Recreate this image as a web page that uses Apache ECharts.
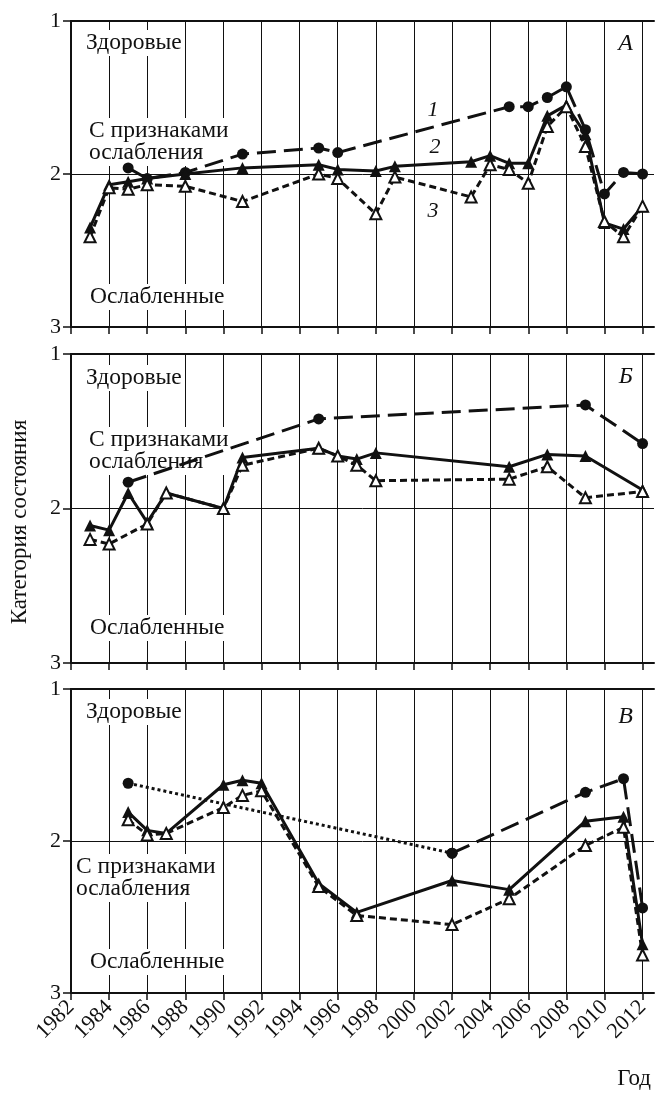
<!DOCTYPE html>
<html><head><meta charset="utf-8">
<script src="https://cdn.jsdelivr.net/npm/echarts@6/dist/echarts.min.js"></script>
<style>html,body{margin:0;padding:0;background:#fff}#c{width:663px;height:1094px}</style>
</head><body><div id="c"></div>
<script>
// ---- data ----
const xTickYears = [1982,1984,1986,1988,1990,1992,1994,1996,1998,2000,2002,2004,2006,2008,2010,2012];
const yTicks = [1,2,3];
const categoryNames = ['Здоровые','С признаками\nослабления','Ослабленные'];
const panelLetters = ['А','Б','В'];
const seriesNumbers = ['1','2','3'];
const axisTitleY = 'Категория состояния';
const axisTitleX = 'Год';

// Panel A
const yearsA1 = [1985,1986,1988,1991,1995,1996,2005,2006,2007,2008,2009,2010,2011,2012];
const valuesA1 = [1.96,2.03,1.99,1.87,1.83,1.86,1.56,1.56,1.50,1.43,1.71,2.13,1.99,2.00];
const yearsA2 = [1983,1984,1985,1986,1988,1991,1995,1996,1998,1999,2003,2004,2005,2006,2007,2008,2009,2010,2011,2012];
const valuesA2 = [2.35,2.07,2.05,2.03,2.00,1.96,1.94,1.97,1.98,1.95,1.92,1.88,1.93,1.93,1.62,1.55,1.74,2.32,2.36,2.21];
const yearsA3 = [1983,1984,1985,1986,1988,1991,1995,1996,1998,1999,2003,2004,2005,2006,2007,2008,2009,2010,2011,2012];
const valuesA3 = [2.41,2.09,2.10,2.07,2.08,2.18,2.00,2.03,2.26,2.02,2.15,1.94,1.97,2.06,1.69,1.56,1.82,2.31,2.41,2.21];

// Panel B
const yearsB1 = [1985,1995,2009,2012];
const valuesB1 = [1.83,1.42,1.33,1.58];
const yearsB2 = [1983,1984,1985,1986,1987,1990,1991,1995,1996,1997,1998,2005,2007,2009,2012];
const valuesB2 = [2.11,2.14,1.90,2.09,1.90,2.00,1.67,1.61,1.66,1.68,1.64,1.73,1.65,1.66,1.88];
const yearsB3 = [1983,1984,1986,1987,1990,1991,1995,1996,1997,1998,2005,2007,2009,2012];
const valuesB3 = [2.20,2.23,2.10,1.90,2.00,1.72,1.61,1.66,1.72,1.82,1.81,1.73,1.93,1.89];

// Panel C (series 1 is dotted up to 2002, dashed afterwards)
const yearsC1 = [1985,2002,2009,2011,2012];
const valuesC1 = [1.62,2.08,1.68,1.59,2.44];
const dottedUntilC1 = 2002;
const yearsC2 = [1985,1986,1987,1990,1991,1992,1995,1997,2002,2005,2009,2011,2012];
const valuesC2 = [1.81,1.93,1.95,1.63,1.60,1.62,2.28,2.47,2.26,2.32,1.87,1.84,2.68];
const yearsC3 = [1985,1986,1987,1990,1991,1992,1995,1997,2002,2005,2009,2011,2012];
const valuesC3 = [1.86,1.96,1.95,1.78,1.70,1.67,2.30,2.49,2.55,2.38,2.03,1.91,2.75];

// ---- layout ----
const FONT = '"Liberation Serif", "Times New Roman", serif';
const INK = '#111';
const panels = [
  {top: 21, height: 306},
  {top: 354, height: 309},
  {top: 689, height: 304}
];
const LEFT = 71, RIGHT = 9;

const pairs = (ys, vs) => ys.map((y, i) => [y, vs[i]]);

const grid = panels.map(p => ({left: LEFT, right: RIGHT, top: p.top, height: p.height}));
const xAxis = [], yAxis = [];
panels.forEach((p, i) => {
  xAxis.push({
    type: 'value', gridIndex: i, min: 1982, max: 2012.6, interval: 2, position: 'bottom',
    axisLine: {show: true, onZero: false, lineStyle: {color: INK, width: 2}},
    axisTick: {show: true, length: 7, inside: false, customValues: xTickYears, lineStyle: {color: INK, width: 1.5}},
    splitLine: {show: true, lineStyle: {color: INK, width: 1}},
    axisLabel: {show: i === 2, customValues: xTickYears, rotate: 45, margin: 11,
      fontFamily: FONT, fontSize: 22, color: INK, formatter: v => String(v)}
  });
  xAxis.push({
    type: 'value', gridIndex: i, min: 1982, max: 2012.6, position: 'top',
    axisLine: {show: true, onZero: false, lineStyle: {color: INK, width: 2}},
    axisTick: {show: false}, splitLine: {show: false}, axisLabel: {show: false}
  });
  yAxis.push({
    type: 'value', gridIndex: i, min: 1, max: 3, interval: 1, inverse: true,
    axisLine: {show: true, lineStyle: {color: INK, width: 2}},
    axisTick: {show: true, length: 8, customValues: yTicks, lineStyle: {color: INK, width: 1.5}},
    axisLabel: {show: true, margin: 10, customValues: yTicks, fontFamily: FONT, fontSize: 22, color: INK},
    splitLine: {show: true, lineStyle: {color: INK, width: 1}}
  });
});

function mk(kind, panel, data, extra) {
  const base = {
    type: 'line', xAxisIndex: panel * 2, yAxisIndex: panel, data: data,
    silent: true, animation: false, z: 3
  };
  if (kind === 1) Object.assign(base, {
    symbol: 'circle', symbolSize: 11, itemStyle: {color: INK},
    lineStyle: {color: INK, width: 3, type: [19, 8], cap: 'butt'}, z: 3
  });
  if (kind === 2) Object.assign(base, {
    symbol: 'triangle', symbolSize: 12, itemStyle: {color: INK},
    lineStyle: {color: INK, width: 3, type: 'solid'}, z: 4
  });
  if (kind === 3) Object.assign(base, {
    symbol: 'triangle', symbolSize: 11, itemStyle: {color: '#fff', borderColor: INK, borderWidth: 2},
    lineStyle: {color: INK, width: 3, type: [7, 4], cap: 'butt'}, z: 5
  });
  return Object.assign(base, extra || {});
}

const c1 = pairs(yearsC1, valuesC1);
const c1Dotted = c1.filter(d => d[0] <= dottedUntilC1);
const c1Dashed = c1.filter(d => d[0] >= dottedUntilC1);

const series = [
  mk(1, 0, pairs(yearsA1, valuesA1)),
  mk(2, 0, pairs(yearsA2, valuesA2)),
  mk(3, 0, pairs(yearsA3, valuesA3)),
  mk(1, 1, pairs(yearsB1, valuesB1)),
  mk(2, 1, pairs(yearsB2, valuesB2)),
  mk(3, 1, pairs(yearsB3, valuesB3)),
  mk(1, 2, c1Dotted, {lineStyle: {color: INK, width: 3, type: [3, 3], cap: 'butt'}}),
  mk(1, 2, c1Dashed),
  mk(2, 2, pairs(yearsC2, valuesC2)),
  mk(3, 2, pairs(yearsC3, valuesC3))
];

// ---- texts ----
function txt(x, y, text, opts) {
  return Object.assign({
    type: 'text', x: x, y: y, z: 1, silent: true,
    style: Object.assign({text: text, font: '21px ' + FONT, fill: INK,
      textAlign: 'left', textVerticalAlign: 'middle'}, (opts && opts.style) || {})
  }, opts && opts.el || {});
}
const bg = {backgroundColor: '#fff', padding: [2, 2, 2, 2], lineHeight: 22};
const catPos = [
  [[84, 43], [87, 142], [88, 297]],
  [[84, 378], [87, 451], [88, 628]],
  [[84, 712], [74, 878], [88, 962]]
];
const graphic = [];
catPos.forEach(pp => pp.forEach((q, k) => {
  graphic.push(txt(q[0], q[1], categoryNames[k], {style: Object.assign({font: '23.5px ' + FONT}, bg)}));
}));
const letterPos = [[633, 44], [633, 377], [633, 717]];
letterPos.forEach((q, i) => graphic.push(txt(q[0], q[1], panelLetters[i],
  {style: {font: 'italic 24px ' + FONT, textAlign: 'right'}})));
const numPos = [[433, 110], [435, 147], [433, 211]];
numPos.forEach((q, i) => graphic.push(txt(q[0], q[1], seriesNumbers[i],
  {style: {font: 'italic 22px ' + FONT, textAlign: 'center'}})));
graphic.push(txt(20, 522, axisTitleY, {style: {font: '23px ' + FONT, textAlign: 'center'}, el: {rotation: Math.PI / 2}}));
graphic.push(txt(651, 1079, axisTitleX, {style: {font: '23px ' + FONT, textAlign: 'right'}}));

const chart = echarts.init(document.getElementById('c'), null, {renderer: 'canvas'});
chart.setOption({
  backgroundColor: '#fff', animation: false,
  grid: grid, xAxis: xAxis, yAxis: yAxis, series: series, graphic: graphic
});
</script></body></html>
